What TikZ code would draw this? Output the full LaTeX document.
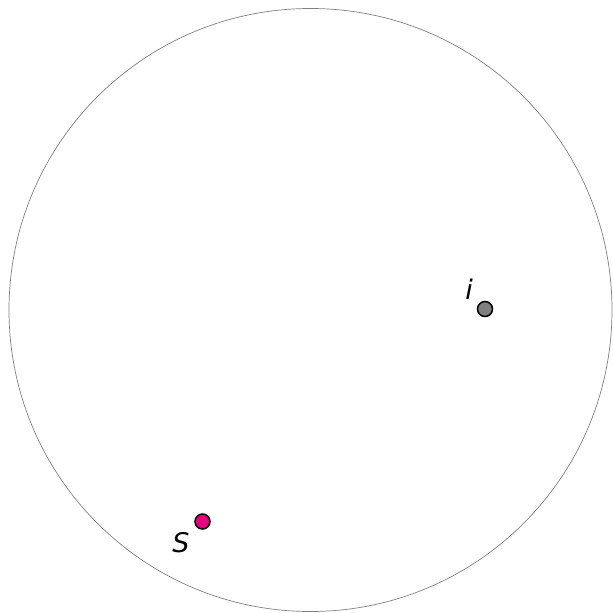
\documentclass[tikz,border=0pt]{standalone}
\usepackage{fontspec}
\setmainfont{DejaVu Sans}
\definecolor{dotgray}{RGB}{128,128,128}
\definecolor{dotmag}{RGB}{230,0,126}
\tikzset{
  dot/.style={circle, draw=black, line width=1.5pt, minimum size=15pt, inner sep=0pt},
  lbl/.style={font=\fontsize{27}{27}\selectfont\itshape, inner sep=0pt}
}
\begin{document}
\begin{tikzpicture}[x=1pt,y=-1pt]
\useasboundingbox (0,0) rectangle (613,613);
\node[circle, draw=gray, line width=0.7pt, minimum size=603pt, inner sep=0pt] (world) at (310.5,310) {};
\node[dot, fill=dotgray] (i) at (485,309) {};
\node[dot, fill=dotmag] (s) at (202.5,521.5) {};
\node[lbl] (il) at (469,289) {i};
\node[lbl] (sl) at (181,543) {S};
\end{tikzpicture}
\end{document}
